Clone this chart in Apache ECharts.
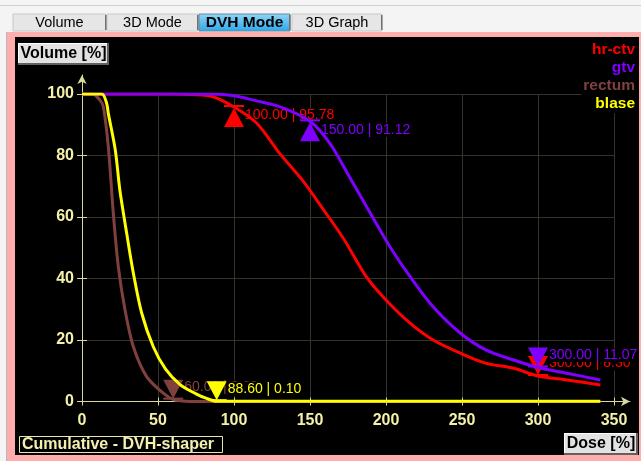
<!DOCTYPE html>
<html><head><meta charset="utf-8">
<script src="https://cdn.jsdelivr.net/npm/echarts/dist/echarts.min.js"></script>
<style>html,body{margin:0;padding:0;background:#f4f4f4}#c{width:641px;height:461px}</style>
</head><body><div id="c"></div>
<script>
// ---- data ----
const seriesNames = ['hr-ctv', 'gtv', 'rectum', 'blase'];
const hrCtvDose = [0, 60, 73, 86, 100, 115, 130, 145, 158, 172, 187, 200, 216, 231, 249, 266, 284, 300, 319, 341];
const hrCtvVol  = [100, 100, 99.8, 99.1, 95.78, 90.5, 80.7, 72, 63, 53, 40.6, 33, 25.4, 20, 15.7, 12.4, 10.8, 8.3, 7, 5.4];
const gtvDose = [0, 86, 100, 113, 130, 150, 163, 176, 183, 190, 203, 216, 231, 249, 266, 284, 300, 319, 341];
const gtvVol  = [100, 100, 99.4, 98, 95.9, 91.12, 84, 73, 67, 61, 50, 40.5, 30.8, 22.2, 16.7, 13.5, 11.07, 9.2, 7];
const rectumDose = [0, 7, 11.8, 14, 17.3, 20.6, 23.9, 28.3, 33.8, 42.5, 53.5, 60, 66, 75, 341];
const rectumVol  = [100, 100, 98, 95.9, 82.9, 61.2, 43.8, 29.8, 17.8, 8.1, 2.7, 0.6, 0.2, 0, 0];
const blaseDose = [0, 13, 16.2, 17.3, 21.9, 24.9, 29.4, 33.8, 39.3, 46.9, 55, 64.5, 75, 82, 88.6, 100, 341];
const blaseVol  = [100, 100, 97, 93.7, 81.8, 68.8, 54.7, 41.7, 28.7, 17.8, 10.5, 5.5, 2.5, 1, 0.1, 0.1, 0.1];
const markerSeries = ['hr-ctv', 'gtv', 'hr-ctv', 'gtv', 'rectum', 'blase'];
const markerDose = [100, 150, 300, 300, 60, 88.6];
const markerVol  = [95.78, 91.12, 8.30, 11.07, 0.60, 0.10];
const xTicks = [0, 50, 100, 150, 200, 250, 300, 350];
const yTicks = [0, 20, 40, 60, 80, 100];
const tabLabels = ['Volume', '3D Mode', 'DVH Mode', '3D Graph'];
const yAxisTitle = 'Volume [%]';
const xAxisTitle = 'Dose [%]';
const modeLabel = 'Cumulative - DVH-shaper';

// ---- styles ----
const colors = {'hr-ctv': '#ff0000', 'gtv': '#7f00ff', 'rectum': '#804040', 'blase': '#ffff00'};
const FF = '"Liberation Sans", Arial, sans-serif';
const axisCol = '#d8d8a0';
const labelCol = '#f4f0a8';
const gridCol = '#33332a';

const curves = {
  'hr-ctv': [hrCtvDose, hrCtvVol],
  'gtv': [gtvDose, gtvVol],
  'rectum': [rectumDose, rectumVol],
  'blase': [blaseDose, blaseVol]
};
const zip = (a, b) => a.map((v, i) => [v, b[i]]);

const xMin = xTicks[0], xMax = xTicks[xTicks.length - 1], xInt = xTicks[1] - xTicks[0];
const yMin = yTicks[0], yMax = yTicks[yTicks.length - 1], yInt = yTicks[1] - yTicks[0];

const lineSeries = seriesNames.map((n, i) => ({
  type: 'line', name: n, data: zip(curves[n][0], curves[n][1]),
  xAxisIndex: 0, yAxisIndex: 0, showSymbol: false, symbol: 'none',
  smooth: 0.3, lineStyle: {color: colors[n], width: 3}, z: 3 + i, animation: false
}));

const markerData = markerSeries.map((n, i) => [markerDose[i], markerVol[i], seriesNames.indexOf(n)]);

const markerSeriesObj = {
  type: 'custom', xAxisIndex: 0, yAxisIndex: 0, clip: false, z: 2, animation: false,
  data: markerData,
  renderItem: function (params, api) {
    const d = api.value(0), v = api.value(1), si = api.value(2);
    const p = api.coord([d, v]);
    const c = colors[seriesNames[si]];
    const up = v > 50;
    const children = [];
    if (up) {
      children.push({type: 'polygon', shape: {points: [[p[0], p[1] + 1], [p[0] - 10, p[1] + 20], [p[0] + 10, p[1] + 20]]}, style: {fill: c}});
    } else {
      children.push({type: 'polygon', shape: {points: [[p[0] - 10, p[1] - 20], [p[0] + 10, p[1] - 20], [p[0], p[1] - 1]]}, style: {fill: c}});
    }
    children.push({type: 'rect', shape: {x: p[0] - 10, y: p[1] - 2, width: 20, height: 2}, style: {fill: c}});
    children.push({type: 'text', x: p[0] + 10, y: up ? p[1] + 8.5 : p[1] - 12.5,
      style: {text: d.toFixed(2) + ' | ' + v.toFixed(2), fill: c, font: '14px ' + FF,
        verticalAlign: 'middle', align: 'left', backgroundColor: '#000', padding: [0, 1, 0, 1]}});
    return {type: 'group', children: children};
  }
};

const graphics = [];
// window chrome
graphics.push({type: 'rect', z: -100, shape: {x: 0, y: 0, width: 641, height: 461}, style: {fill: '#f4f4f4'}});
graphics.push({type: 'rect', z: -99, shape: {x: 0, y: 5, width: 641, height: 1}, style: {fill: '#d0d0d0'}});
graphics.push({type: 'rect', z: -99, shape: {x: 6, y: 32, width: 635, height: 429}, style: {fill: '#ffadad'}});
graphics.push({type: 'rect', z: -99, shape: {x: 6, y: 32, width: 1, height: 429}, style: {fill: '#b8b8b8'}});
graphics.push({type: 'rect', z: -98, shape: {x: 15, y: 37, width: 624, height: 418}, style: {fill: '#000'}});
const tabX = [13, 107, 199, 292], tabW = [93, 91, 91, 90];
tabLabels.forEach((t, i) => {
  const sel = i === 2;
  graphics.push({type: 'rect', z: -97, shape: {x: tabX[i], y: 14, width: tabW[i], height: 17},
    style: sel ? {fill: new echarts.graphic.LinearGradient(0, 0, 0, 1, [{offset: 0, color: '#8fd6f8'}, {offset: 1, color: '#2ea6e6'}]), stroke: '#6a8aa0'}
               : {fill: '#e6e6e6', stroke: '#c8c8c8'}});
  graphics.push({type: 'rect', z: -96, shape: {x: tabX[i] + tabW[i] - 1, y: 15, width: 1.5, height: 15}, style: {fill: '#707070'}});
  graphics.push({type: 'text', z: -95, x: tabX[i] + tabW[i] / 2, y: 22.5,
    style: {text: t, fill: '#000', font: (sel ? 'bold 15.5px ' : '14.5px ') + FF, align: 'center', verticalAlign: 'middle'}});
});
// legend (right aligned, coloured text)
seriesNames.forEach((n, i) => {
  graphics.push({type: 'text', z: 50, x: 636, y: 49.3 + i * 18.3,
    style: {text: n, fill: colors[n], font: 'bold 15.5px ' + FF, align: 'right', verticalAlign: 'middle',
      backgroundColor: '#000', padding: [1, 1, 1, 2]}});
});
// axis title boxes
function bevelBox(x, y, w, h, text) {
  graphics.push({type: 'rect', z: 40, shape: {x: x, y: y, width: w, height: h}, style: {fill: '#e2e2e2'}});
  graphics.push({type: 'rect', z: 41, shape: {x: x, y: y, width: w, height: 1}, style: {fill: '#ffffff'}});
  graphics.push({type: 'rect', z: 41, shape: {x: x, y: y, width: 1, height: h}, style: {fill: '#ffffff'}});
  graphics.push({type: 'rect', z: 41, shape: {x: x, y: y + h - 2, width: w, height: 2}, style: {fill: '#606060'}});
  graphics.push({type: 'rect', z: 41, shape: {x: x + w - 2, y: y, width: 2, height: h}, style: {fill: '#606060'}});
  graphics.push({type: 'text', z: 42, x: x + w / 2, y: y + h / 2,
    style: {text: text, fill: '#000', font: 'bold 16px ' + FF, align: 'center', verticalAlign: 'middle'}});
}
bevelBox(18, 43, 91, 22, yAxisTitle);
bevelBox(564, 433, 74, 22, xAxisTitle);
graphics.push({type: 'rect', z: 40, shape: {x: 19.5, y: 436.5, width: 203, height: 16}, style: {fill: '#000', stroke: '#e8e8a8', lineWidth: 1}});
graphics.push({type: 'text', z: 41, x: 22, y: 445,
  style: {text: modeLabel, fill: '#f4f0b0', font: 'bold 16px ' + FF, align: 'left', verticalAlign: 'middle'}});

const tickLbl = {color: labelCol, fontWeight: 'bold', fontSize: 16, fontFamily: FF};

const option = {
  animation: false,
  backgroundColor: 'transparent',
  grid: [
    {left: 82, top: 94, width: 532, height: 307.5},
    {left: 82, top: 75, width: 548, height: 326.5}
  ],
  xAxis: [
    {gridIndex: 0, type: 'value', min: xMin, max: xMax, interval: xInt, position: 'bottom',
      axisLine: {show: false}, axisTick: {show: true, length: 4, lineStyle: {color: axisCol}},
      axisLabel: Object.assign({margin: 11}, tickLbl),
      splitLine: {show: true, lineStyle: {color: gridCol, width: 1}}},
    {gridIndex: 0, type: 'value', min: xMin, max: xMax, interval: xInt, position: 'bottom',
      axisLine: {show: false}, axisTick: {show: true, inside: true, length: 4, lineStyle: {color: axisCol}},
      axisLabel: {show: false}, splitLine: {show: false}},
    {gridIndex: 1, type: 'value', min: 0, max: 360.5, position: 'bottom',
      axisLine: {show: true, symbol: ['none', 'arrow'], symbolSize: [7, 9], lineStyle: {color: axisCol, width: 1}},
      axisTick: {show: false}, axisLabel: {show: false}, splitLine: {show: false}}
  ],
  yAxis: [
    {gridIndex: 0, type: 'value', min: yMin, max: yMax, interval: yInt, position: 'left',
      axisLine: {show: false}, axisTick: {show: true, length: 5, lineStyle: {color: axisCol}},
      axisLabel: Object.assign({margin: 8}, tickLbl),
      splitLine: {show: true, lineStyle: {color: gridCol, width: 1}}},
    {gridIndex: 0, type: 'value', min: yMin, max: yMax, interval: yInt, position: 'left',
      axisLine: {show: false}, axisTick: {show: true, inside: true, length: 5, lineStyle: {color: axisCol}},
      axisLabel: {show: false}, splitLine: {show: false}},
    {gridIndex: 1, type: 'value', min: 0, max: 106.2, position: 'left',
      axisLine: {show: true, symbol: ['none', 'arrow'], symbolSize: [7, 9], lineStyle: {color: axisCol, width: 1}},
      axisTick: {show: false}, axisLabel: {show: false}, splitLine: {show: false}}
  ],
  graphic: graphics,
  series: [markerSeriesObj].concat(lineSeries)
};

const chart = echarts.init(document.getElementById('c'), null, {renderer: 'canvas'});
chart.setOption(option);
</script>
</body></html>
